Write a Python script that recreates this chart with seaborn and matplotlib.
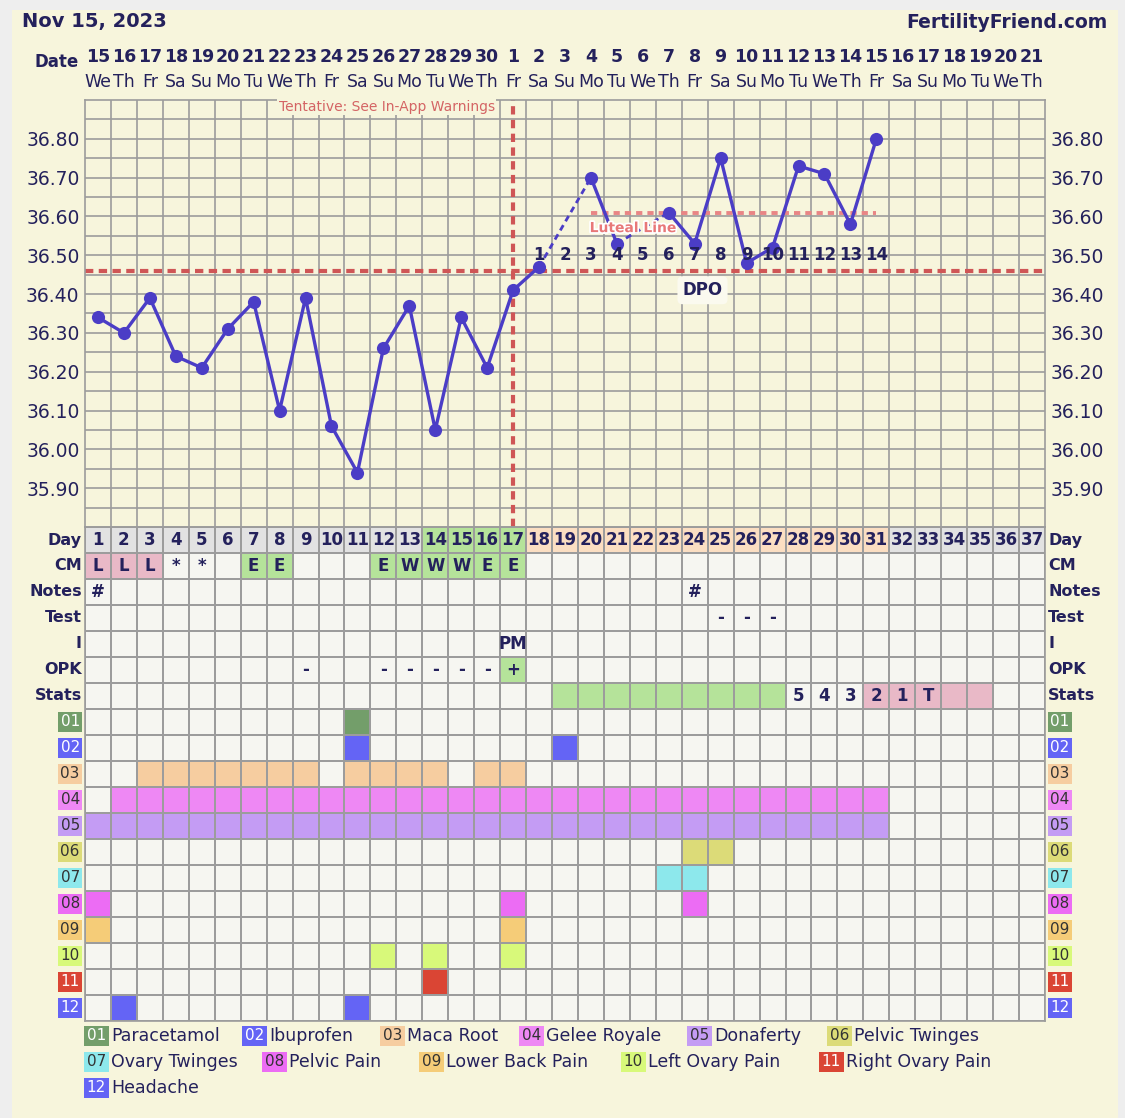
import matplotlib.pyplot as plt
import numpy as np
import pandas as pd
import seaborn as sns
from matplotlib import patheffects
from matplotlib.colors import ListedColormap, to_rgb
from matplotlib.patches import Rectangle
from matplotlib.transforms import blended_transform_factory

plt.rcParams["font.family"] = ["DejaVu Sans"]

# ---- header / dates ----
chart_date = "Nov 15, 2023"
site_name = "FertilityFriend.com"
date_numbers = [15, 16, 17, 18, 19, 20, 21, 22, 23, 24, 25, 26, 27, 28, 29, 30,
                1, 2, 3, 4, 5, 6, 7, 8, 9, 10, 11, 12, 13, 14, 15, 16, 17, 18, 19, 20, 21]
weekdays = ["We", "Th", "Fr", "Sa", "Su", "Mo", "Tu"] * 5 + ["We", "Th"]
cycle_days = [1, 2, 3, 4, 5, 6, 7, 8, 9, 10, 11, 12, 13, 14, 15, 16, 17, 18, 19,
              20, 21, 22, 23, 24, 25, 26, 27, 28, 29, 30, 31, 32, 33, 34, 35, 36, 37]

# ---- temperatures (cycle days 1..31, None = not recorded) ----
temps = [36.34, 36.30, 36.39, 36.24, 36.21, 36.31, 36.38, 36.10, 36.39, 36.06,
         35.94, 36.26, 36.37, 36.05, 36.34, 36.21, 36.41, 36.47, None, 36.70,
         36.53, None, 36.61, 36.53, 36.75, 36.48, 36.52, 36.73, 36.71, 36.58, 36.80]
temp_ticks = [35.90, 36.00, 36.10, 36.20, 36.30, 36.40, 36.50, 36.60, 36.70, 36.80]
coverline = 36.46
ovulation_day = 17
luteal_level = 36.61
luteal_start, luteal_end = 20, 31
dpo_days = [18, 19, 20, 21, 22, 23, 24, 25, 26, 27, 28, 29, 30, 31]
dpo_labels = ["1", "2", "3", "4", "5", "6", "7", "8", "9", "10", "11", "12", "13", "14"]

# ---- table rows ----
row_labels = ["Day", "CM", "Notes", "Test", "I", "OPK", "Stats"]
fertile_days = [14, 15, 16, 17]
luteal_days = [18, 19, 20, 21, 22, 23, 24, 25, 26, 27, 28, 29, 30, 31]
cm_marks = {1: "L", 2: "L", 3: "L", 4: "*", 5: "*", 7: "E", 8: "E", 12: "E",
            13: "W", 14: "W", 15: "W", 16: "E", 17: "E"}
cm_pink = [1, 2, 3]
cm_green = [7, 8, 12, 13, 14, 15, 16, 17]
notes_marks = {1: "#", 24: "#"}
test_marks = {25: "-", 26: "-", 27: "-"}
intercourse_marks = {17: "PM"}
opk_marks = {9: "-", 12: "-", 13: "-", 14: "-", 15: "-", 16: "-", 17: "+"}
opk_green = [17]
stats_marks = {28: "5", 29: "4", 30: "3", 31: "2", 32: "1", 33: "T"}
stats_green = [19, 20, 21, 22, 23, 24, 25, 26, 27]
stats_pink = [31, 32, 33, 34, 35]

symptom_codes = ["01", "02", "03", "04", "05", "06", "07", "08", "09", "10", "11", "12"]
symptom_names = ["Paracetamol", "Ibuprofen", "Maca Root", "Gelee Royale", "Donaferty",
                 "Pelvic Twinges", "Ovary Twinges", "Pelvic Pain", "Lower Back Pain",
                 "Left Ovary Pain", "Right Ovary Pain", "Headache"]
symptom_colors = ["#739E6A", "#6464F5", "#F6CDA0", "#EE88F4", "#C49CF4", "#DCDB78",
                  "#8DE8EC", "#EC6CF4", "#F5CC78", "#D8F97A", "#DA4534", "#6464F5"]
symptom_days = [
    [11],
    [11, 19],
    [3, 4, 5, 6, 7, 8, 9, 11, 12, 13, 14, 16, 17],
    list(range(2, 32)),
    list(range(1, 32)),
    [24, 25],
    [23, 24],
    [1, 17, 24],
    [1, 17],
    [12, 14, 17],
    [14],
    [2, 11],
]

# ---- style ----
NAVY = "#24215C"
CREAM = "#F7F5DC"
EDGE = "#EEEEEE"
GRID = "#9C9C9C"
LINE = "#4B3DC6"
RED = "#CF5656"
EMPTY, GRAY, GREEN, PEACH, PINK = "#F6F6F1", "#E2E2E2", "#B5E39A", "#FBDEC2", "#E9B9C7"

W, H = 1125, 1118
fig = plt.figure(figsize=(W / 100, H / 100), dpi=100, facecolor=EDGE)
fig.patches.append(Rectangle((12 / W, 0), (1118 - 12) / W, (H - 10) / H,
                             transform=fig.transFigure, fc=CREAM, ec="none", zorder=-5))

# ---------------- temperature chart ----------------
ax = fig.add_axes([85 / W, (H - 527) / H, 960 / W, 427 / H])
ax.set_facecolor(CREAM)

df = pd.DataFrame({"day": cycle_days[:len(temps)], "temp": temps})
df["run"] = df["temp"].isna().cumsum()
obs = df.dropna()

# dashed bridges over the missing days
bridges = []
for i in df.index[df["temp"].isna()]:
    before = df.loc[:i - 1, "temp"].last_valid_index()
    after = df.loc[i + 1:, "temp"].first_valid_index()
    for j in (before, after):
        bridges.append({"day": df.loc[j, "day"], "temp": df.loc[j, "temp"], "gap": i})
bridges = pd.DataFrame(bridges)

ax.axhline(coverline, color=RED, lw=3, ls=(0, (2.0, 1.3)), zorder=2)
ax.axvline(ovulation_day, color=RED, lw=3, ls=(0, (2.0, 1.3)), zorder=2)
ax.hlines(luteal_level, luteal_start, luteal_end, color="#E98585", lw=2.8,
          ls=(0, (1.6, 1.3)), zorder=2)

sns.lineplot(data=obs, x="day", y="temp", units="run", estimator=None, sort=False,
             color=LINE, lw=2.4, ax=ax, legend=False, zorder=3)
sns.lineplot(data=bridges, x="day", y="temp", units="gap", estimator=None, sort=False,
             color=LINE, lw=2.0, ls=(0, (2.2, 1.6)), ax=ax, legend=False, zorder=3)
sns.scatterplot(data=obs, x="day", y="temp", color=LINE, s=90, linewidth=0,
                ax=ax, legend=False, zorder=4)

ax.set_xlim(0.5, len(cycle_days) + 0.5)
ax.set_ylim(35.80, 36.90)
ax.set_xticks([])
ax.set_xticks(np.arange(1.5, len(cycle_days), 1), minor=True)
ax.set_yticks(temp_ticks, labels=[f"{t:.2f}" for t in temp_ticks])
ax.set_yticks(np.arange(35.85, 36.9, 0.1), minor=True)
ax.grid(which="both", color=GRID, lw=1.2)
ax.set_axisbelow(True)
ax.tick_params(which="both", length=0)
ax.tick_params(axis="y", labelleft=True, labelright=True, labelsize=13.5,
               labelcolor=NAVY, pad=4)
ax.set_xlabel("")
ax.set_ylabel("")
for s in ax.spines.values():
    s.set_color(GRID)
    s.set_linewidth(1.2)

for d, lab in zip(dpo_days, dpo_labels):
    ax.text(d, 36.50, lab, ha="center", va="center", fontsize=12,
            fontweight="bold", color=NAVY, zorder=5)
ax.text(24.3, 36.41, "DPO", ha="center", va="center", fontsize=12, fontweight="bold",
        color=NAVY, zorder=5,
        bbox=dict(boxstyle="round,pad=0.3", fc="#FBFAEF", ec="none"))
ax.text(luteal_start - 0.05, 36.57, "Luteal Line", ha="left", va="center", fontsize=10,
        fontweight="bold", color="#E87878", zorder=5,
        path_effects=[patheffects.withStroke(linewidth=2.5, foreground="white")])
ax.text(ovulation_day - 0.7, 36.883, "Tentative: See In-App Warnings", ha="right",
        va="center", fontsize=10, color="#D46464", zorder=5,
        bbox=dict(boxstyle="square,pad=0.1", fc=CREAM, ec="none"))

# header rows above the chart
hdr = blended_transform_factory(ax.transData, fig.transFigure)
for d, num, wd in zip(cycle_days, date_numbers, weekdays):
    ax.text(d, 1 - 57 / H, str(num), transform=hdr, ha="center", va="center",
            fontsize=12.5, fontweight="bold", color=NAVY, clip_on=False)
    ax.text(d, 1 - 82 / H, wd, transform=hdr, ha="center", va="center",
            fontsize=12.5, color=NAVY, clip_on=False)
fig.text(79 / W, 1 - 62 / H, "Date", ha="right", va="center", fontsize=12,
         fontweight="bold", color=NAVY)
fig.text(22 / W, 1 - 22 / H, chart_date, ha="left", va="center", fontsize=14,
         fontweight="bold", color=NAVY)
fig.text(1108 / W, 1 - 22 / H, site_name, ha="right", va="center", fontsize=13.5,
         fontweight="bold", color=NAVY)

# ---------------- table ----------------
n_rows = len(row_labels) + len(symptom_names)
n_days = len(cycle_days)
palette = [EMPTY, GRAY, GREEN, PEACH, PINK] + symptom_colors
codes = np.zeros((n_rows, n_days), dtype=int)
annot = np.full((n_rows, n_days), "", dtype=object)

codes[0, :] = 1
for d in fertile_days:
    codes[0, d - 1] = 2
for d in luteal_days:
    codes[0, d - 1] = 3
annot[0, :] = [str(d) for d in cycle_days]

for r, (marks, greens, pinks) in enumerate([
        (cm_marks, cm_green, cm_pink),
        (notes_marks, [], []),
        (test_marks, [], []),
        (intercourse_marks, [], []),
        (opk_marks, opk_green, []),
        (stats_marks, stats_green, stats_pink)], start=1):
    for d, m in marks.items():
        annot[r, d - 1] = m
    for d in greens:
        codes[r, d - 1] = 2
    for d in pinks:
        codes[r, d - 1] = 4

for k, days in enumerate(symptom_days):
    for d in days:
        codes[len(row_labels) + k, d - 1] = 5 + k

tax = fig.add_axes([85 / W, (H - 1021) / H, 960 / W, 494 / H])
sns.heatmap(codes, ax=tax, cmap=ListedColormap(palette), vmin=-0.5,
            vmax=len(palette) - 0.5, cbar=False, linewidths=1.2, linecolor=GRID,
            annot=annot, fmt="", xticklabels=False, yticklabels=False,
            annot_kws={"color": NAVY, "fontsize": 12, "fontweight": "bold"})
for s in tax.spines.values():
    s.set_visible(True)
    s.set_color(GRID)
    s.set_linewidth(1.2)


def text_color(c):
    r, g, b = to_rgb(c)
    return "white" if 0.299 * r + 0.587 * g + 0.114 * b < 0.55 else "#333333"


for r, lab in enumerate(row_labels):
    tax.text(-0.12, r + 0.5, lab, ha="right", va="center", fontsize=11.5,
             fontweight="bold", color=NAVY)
    tax.text(n_days + 0.12, r + 0.5, lab, ha="left", va="center", fontsize=11.5,
             fontweight="bold", color=NAVY)
for k, (code, col) in enumerate(zip(symptom_codes, symptom_colors)):
    y = len(row_labels) + k + 0.5
    box = dict(boxstyle="square,pad=0.15", fc=col, ec="none")
    tax.text(-0.2, y, code, ha="right", va="center", fontsize=11,
             color=text_color(col), bbox=box)
    tax.text(n_days + 0.2, y, code, ha="left", va="center", fontsize=11,
             color=text_color(col), bbox=box)

# ---------------- legend ----------------
legend_x = [84, 242, 380, 519, 687, 827, 84, 262, 419, 621, 819, 84]
legend_row = [0, 0, 0, 0, 0, 0, 1, 1, 1, 1, 1, 2]
for code, name, col, lx, lr in zip(symptom_codes, symptom_names, symptom_colors,
                                   legend_x, legend_row):
    y = 1 - (1036 + 26 * lr) / H
    fig.text((lx + 2.8) / W, y, code, ha="left", va="center", fontsize=11,
             color=text_color(col),
             bbox=dict(boxstyle="square,pad=0.18", fc=col, ec="none"))
    fig.text((lx + 27) / W, y, name, ha="left", va="center", fontsize=12.5, color=NAVY)

fig.savefig("out.png", dpi=100, facecolor=fig.get_facecolor())
